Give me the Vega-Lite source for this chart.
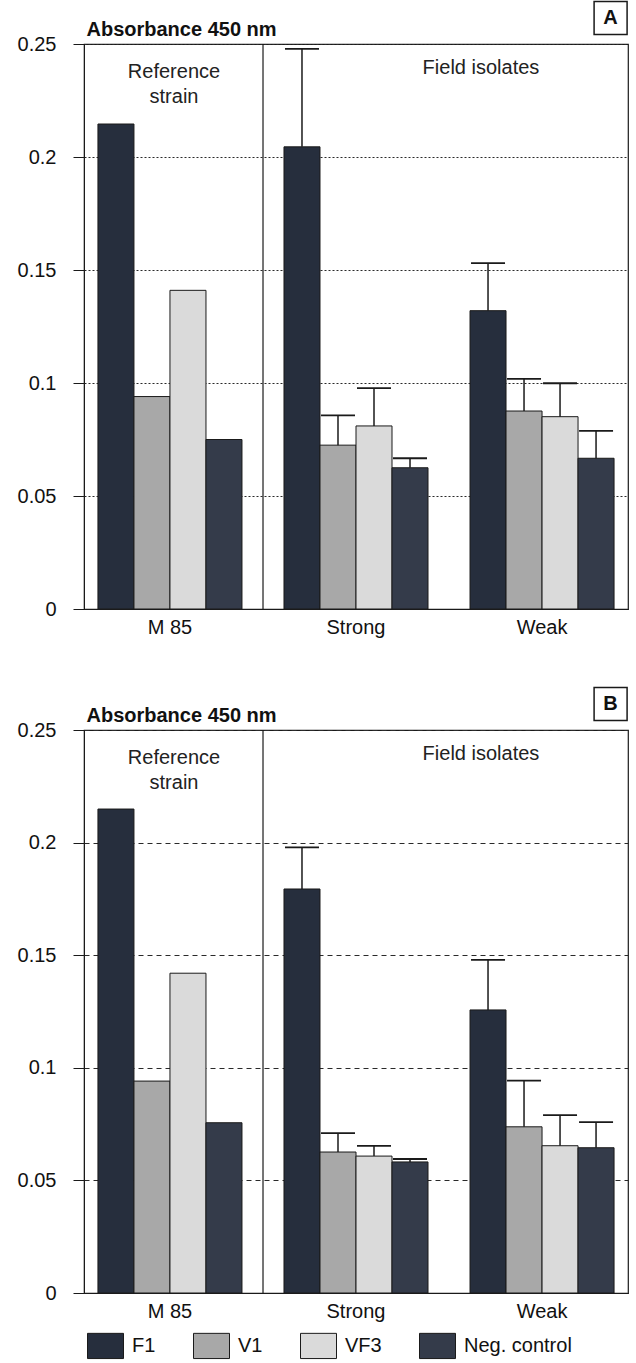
{
  "$schema": "https://vega.github.io/schema/vega-lite/v6.json",
  "padding": {"left": 16, "top": -3, "right": 5, "bottom": 5},
  "background": "white",
  "config": {
    "font": "Liberation Sans",
    "view": {"stroke": "#1a1a1a", "strokeWidth": 1.2},
    "axis": {"labelColor": "#111", "titleColor": "#111", "domainColor": "#1a1a1a", "tickColor": "#1a1a1a", "labelFont": "Liberation Sans", "titleFont": "Liberation Sans"},
    "legend": {"labelFont": "Liberation Sans"}
  },
  "datasets": {
    "A": [
      {"cat": "M 85", "s": "F1", "v": 0.2146},
      {"cat": "M 85", "s": "V1", "v": 0.094},
      {"cat": "M 85", "s": "VF3", "v": 0.141},
      {"cat": "M 85", "s": "Neg. control", "v": 0.075},
      {"cat": "Strong", "s": "F1", "v": 0.2045, "hi": 0.2478},
      {"cat": "Strong", "s": "V1", "v": 0.0725, "hi": 0.0857},
      {"cat": "Strong", "s": "VF3", "v": 0.081, "hi": 0.0977},
      {"cat": "Strong", "s": "Neg. control", "v": 0.0625, "hi": 0.0667},
      {"cat": "Weak", "s": "F1", "v": 0.132, "hi": 0.153},
      {"cat": "Weak", "s": "V1", "v": 0.0876, "hi": 0.1018},
      {"cat": "Weak", "s": "VF3", "v": 0.0851, "hi": 0.0999},
      {"cat": "Weak", "s": "Neg. control", "v": 0.0667, "hi": 0.0788}
    ],
    "B": [
      {"cat": "M 85", "s": "F1", "v": 0.2149},
      {"cat": "M 85", "s": "V1", "v": 0.0941},
      {"cat": "M 85", "s": "VF3", "v": 0.142},
      {"cat": "M 85", "s": "Neg. control", "v": 0.0756},
      {"cat": "Strong", "s": "F1", "v": 0.1794, "hi": 0.1979},
      {"cat": "Strong", "s": "V1", "v": 0.0626, "hi": 0.071},
      {"cat": "Strong", "s": "VF3", "v": 0.0608, "hi": 0.0653},
      {"cat": "Strong", "s": "Neg. control", "v": 0.0582, "hi": 0.0595},
      {"cat": "Weak", "s": "F1", "v": 0.1257, "hi": 0.1479},
      {"cat": "Weak", "s": "V1", "v": 0.0738, "hi": 0.0943},
      {"cat": "Weak", "s": "VF3", "v": 0.0654, "hi": 0.079},
      {"cat": "Weak", "s": "Neg. control", "v": 0.0645, "hi": 0.0759}
    ],
    "one": [{}]
  },
  "vconcat": [
    {
      "width": 544,
      "height": 565,
      "layer": [
        {
          "data": {"name": "A"},
          "mark": {"type": "bar", "stroke": "#1a1a1a", "strokeWidth": 1},
          "encoding": {
            "x": {"field": "cat", "type": "nominal", "sort": ["M 85", "Strong", "Weak"],
              "scale": {"domain": ["M 85", "Strong", "Weak"], "paddingInner": 0.2258, "paddingOuter": 0.075},
              "axis": {"title": null, "labelFontSize": 20, "ticks": false, "labelPadding": 8, "labelAngle": 0}},
            "xOffset": {"field": "s", "type": "nominal", "scale": {"domain": ["F1", "V1", "VF3", "Neg. control"], "paddingInner": 0, "paddingOuter": 0}},
            "y": {"field": "v", "type": "quantitative", "scale": {"domain": [0, 0.25], "nice": false, "zero": true},
              "axis": {"title": "Absorbance 450 nm", "titleAngle": 0, "titleX": 2, "titleY": -9, "titleAlign": "left", "titleBaseline": "alphabetic", "titleFontSize": 20, "titleFontWeight": "bold",
                "values": [0, 0.05, 0.1, 0.15, 0.2, 0.25], "format": "~g", "labelFontSize": 20, "labelFlush": false, "labelOverlap": false, "tickSize": 11, "labelPadding": 17,
                "grid": true, "gridColor": "#2a2a2a", "gridDash": [2, 2], "gridWidth": 1}},
            "color": {"field": "s", "type": "nominal", "scale": {"domain": ["F1", "V1", "VF3", "Neg. control"], "range": ["#262e3d", "#a8a8a8", "#dadada", "#343b4a"]},
              "legend": {"title": null, "orient": "none", "legendX": 3, "legendY": 1283, "direction": "horizontal", "columns": 4,
                "symbolType": "M-1,-0.7L1,-0.7L1,0.7L-1,0.7Z", "symbolSize": 1296, "symbolStrokeColor": "#1a1a1a", "symbolStrokeWidth": 1, "symbolOpacity": 1,
                "labelFontSize": 20, "labelColor": "#111", "labelOffset": 8, "columnPadding": 35, "padding": 0}}
          }
        },
        {
          "data": {"name": "A"},
          "transform": [{"filter": "isValid(datum.hi)"}],
          "mark": {"type": "rule", "color": "#1a1a1a", "strokeWidth": 1.5},
          "encoding": {
            "x": {"field": "cat", "type": "nominal"},
            "xOffset": {"field": "s", "type": "nominal"},
            "y": {"field": "v", "type": "quantitative"},
            "y2": {"field": "hi"}
          }
        },
        {
          "data": {"name": "A"},
          "transform": [{"filter": "isValid(datum.hi)"}],
          "mark": {"type": "tick", "orient": "horizontal", "size": 34, "thickness": 1.8, "color": "#1a1a1a", "opacity": 1},
          "encoding": {
            "x": {"field": "cat", "type": "nominal"},
            "xOffset": {"field": "s", "type": "nominal"},
            "y": {"field": "hi", "type": "quantitative"}
          }
        },
        {
          "data": {"name": "one"},
          "mark": {"type": "rule", "color": "#1a1a1a", "strokeWidth": 1.2},
          "encoding": {"x": {"datum": "M 85", "type": "nominal", "bandPosition": 1.146}}
        },
        {
          "data": {"name": "one"},
          "mark": {"type": "text", "text": "Reference", "fontSize": 20, "fill": "#222"},
          "encoding": {"x": {"datum": "M 85", "type": "nominal", "bandPosition": 0.528}, "y": {"datum": 0.2377, "type": "quantitative"}}
        },
        {
          "data": {"name": "one"},
          "mark": {"type": "text", "text": "strain", "fontSize": 20, "fill": "#222"},
          "encoding": {"x": {"datum": "M 85", "type": "nominal", "bandPosition": 0.528}, "y": {"datum": 0.2267, "type": "quantitative"}}
        },
        {
          "data": {"name": "one"},
          "mark": {"type": "text", "text": "Field isolates", "fontSize": 20, "fill": "#222"},
          "encoding": {"x": {"datum": "Weak", "type": "nominal", "bandPosition": 0.076}, "y": {"datum": 0.2392, "type": "quantitative"}}
        },
        {
          "data": {"name": "one"},
          "mark": {"type": "point", "shape": "square", "size": 1089, "filled": false, "stroke": "#1a1a1a", "strokeWidth": 1.5, "opacity": 1},
          "encoding": {"x": {"datum": "Weak", "type": "nominal", "bandPosition": 0.976}, "y": {"datum": 0.2615, "type": "quantitative"}}
        },
        {
          "data": {"name": "one"},
          "mark": {"type": "text", "text": "A", "fontSize": 20, "fontWeight": "bold", "fill": "#111"},
          "encoding": {"x": {"datum": "Weak", "type": "nominal", "bandPosition": 0.976}, "y": {"datum": 0.2615, "type": "quantitative"}}
        }
      ]
    },
    {
      "width": 544,
      "height": 563,
      "layer": [
        {
          "data": {"name": "B"},
          "mark": {"type": "bar", "stroke": "#1a1a1a", "strokeWidth": 1},
          "encoding": {
            "x": {"field": "cat", "type": "nominal", "sort": ["M 85", "Strong", "Weak"],
              "scale": {"domain": ["M 85", "Strong", "Weak"], "paddingInner": 0.2258, "paddingOuter": 0.075},
              "axis": {"title": null, "labelFontSize": 20, "ticks": false, "labelPadding": 8, "labelAngle": 0}},
            "xOffset": {"field": "s", "type": "nominal", "scale": {"domain": ["F1", "V1", "VF3", "Neg. control"], "paddingInner": 0, "paddingOuter": 0}},
            "y": {"field": "v", "type": "quantitative", "scale": {"domain": [0, 0.25], "nice": false, "zero": true},
              "axis": {"title": "Absorbance 450 nm", "titleAngle": 0, "titleX": 2, "titleY": -9, "titleAlign": "left", "titleBaseline": "alphabetic", "titleFontSize": 20, "titleFontWeight": "bold",
                "values": [0, 0.05, 0.1, 0.15, 0.2, 0.25], "format": "~g", "labelFontSize": 20, "labelFlush": false, "labelOverlap": false, "tickSize": 11, "labelPadding": 17,
                "grid": true, "gridColor": "#2a2a2a", "gridDash": [5, 4], "gridWidth": 1}},
            "color": {"field": "s", "type": "nominal", "scale": {"domain": ["F1", "V1", "VF3", "Neg. control"], "range": ["#262e3d", "#a8a8a8", "#dadada", "#343b4a"]},
              "legend": {"title": null, "orient": "none", "legendX": 3, "legendY": 1283, "direction": "horizontal", "columns": 4,
                "symbolType": "M-1,-0.7L1,-0.7L1,0.7L-1,0.7Z", "symbolSize": 1296, "symbolStrokeColor": "#1a1a1a", "symbolStrokeWidth": 1, "symbolOpacity": 1,
                "labelFontSize": 20, "labelColor": "#111", "labelOffset": 8, "columnPadding": 35, "padding": 0}}
          }
        },
        {
          "data": {"name": "B"},
          "transform": [{"filter": "isValid(datum.hi)"}],
          "mark": {"type": "rule", "color": "#1a1a1a", "strokeWidth": 1.5},
          "encoding": {
            "x": {"field": "cat", "type": "nominal"},
            "xOffset": {"field": "s", "type": "nominal"},
            "y": {"field": "v", "type": "quantitative"},
            "y2": {"field": "hi"}
          }
        },
        {
          "data": {"name": "B"},
          "transform": [{"filter": "isValid(datum.hi)"}],
          "mark": {"type": "tick", "orient": "horizontal", "size": 34, "thickness": 1.8, "color": "#1a1a1a", "opacity": 1},
          "encoding": {
            "x": {"field": "cat", "type": "nominal"},
            "xOffset": {"field": "s", "type": "nominal"},
            "y": {"field": "hi", "type": "quantitative"}
          }
        },
        {
          "data": {"name": "one"},
          "mark": {"type": "rule", "color": "#1a1a1a", "strokeWidth": 1.2},
          "encoding": {"x": {"datum": "M 85", "type": "nominal", "bandPosition": 1.146}}
        },
        {
          "data": {"name": "one"},
          "mark": {"type": "text", "text": "Reference", "fontSize": 20, "fill": "#222"},
          "encoding": {"x": {"datum": "M 85", "type": "nominal", "bandPosition": 0.528}, "y": {"datum": 0.2376, "type": "quantitative"}}
        },
        {
          "data": {"name": "one"},
          "mark": {"type": "text", "text": "strain", "fontSize": 20, "fill": "#222"},
          "encoding": {"x": {"datum": "M 85", "type": "nominal", "bandPosition": 0.528}, "y": {"datum": 0.2265, "type": "quantitative"}}
        },
        {
          "data": {"name": "one"},
          "mark": {"type": "text", "text": "Field isolates", "fontSize": 20, "fill": "#222"},
          "encoding": {"x": {"datum": "Weak", "type": "nominal", "bandPosition": 0.076}, "y": {"datum": 0.2392, "type": "quantitative"}}
        },
        {
          "data": {"name": "one"},
          "mark": {"type": "point", "shape": "square", "size": 1089, "filled": false, "stroke": "#1a1a1a", "strokeWidth": 1.5, "opacity": 1},
          "encoding": {"x": {"datum": "Weak", "type": "nominal", "bandPosition": 0.976}, "y": {"datum": 0.2615, "type": "quantitative"}}
        },
        {
          "data": {"name": "one"},
          "mark": {"type": "text", "text": "B", "fontSize": 20, "fontWeight": "bold", "fill": "#111"},
          "encoding": {"x": {"datum": "Weak", "type": "nominal", "bandPosition": 0.976}, "y": {"datum": 0.2615, "type": "quantitative"}}
        }
      ]
    }
  ],
  "spacing": 121,
  "bounds": "flush",
  "resolve": {"scale": {"x": "independent", "y": "independent", "xOffset": "independent", "color": "shared"}, "legend": {"color": "shared"}}
}
